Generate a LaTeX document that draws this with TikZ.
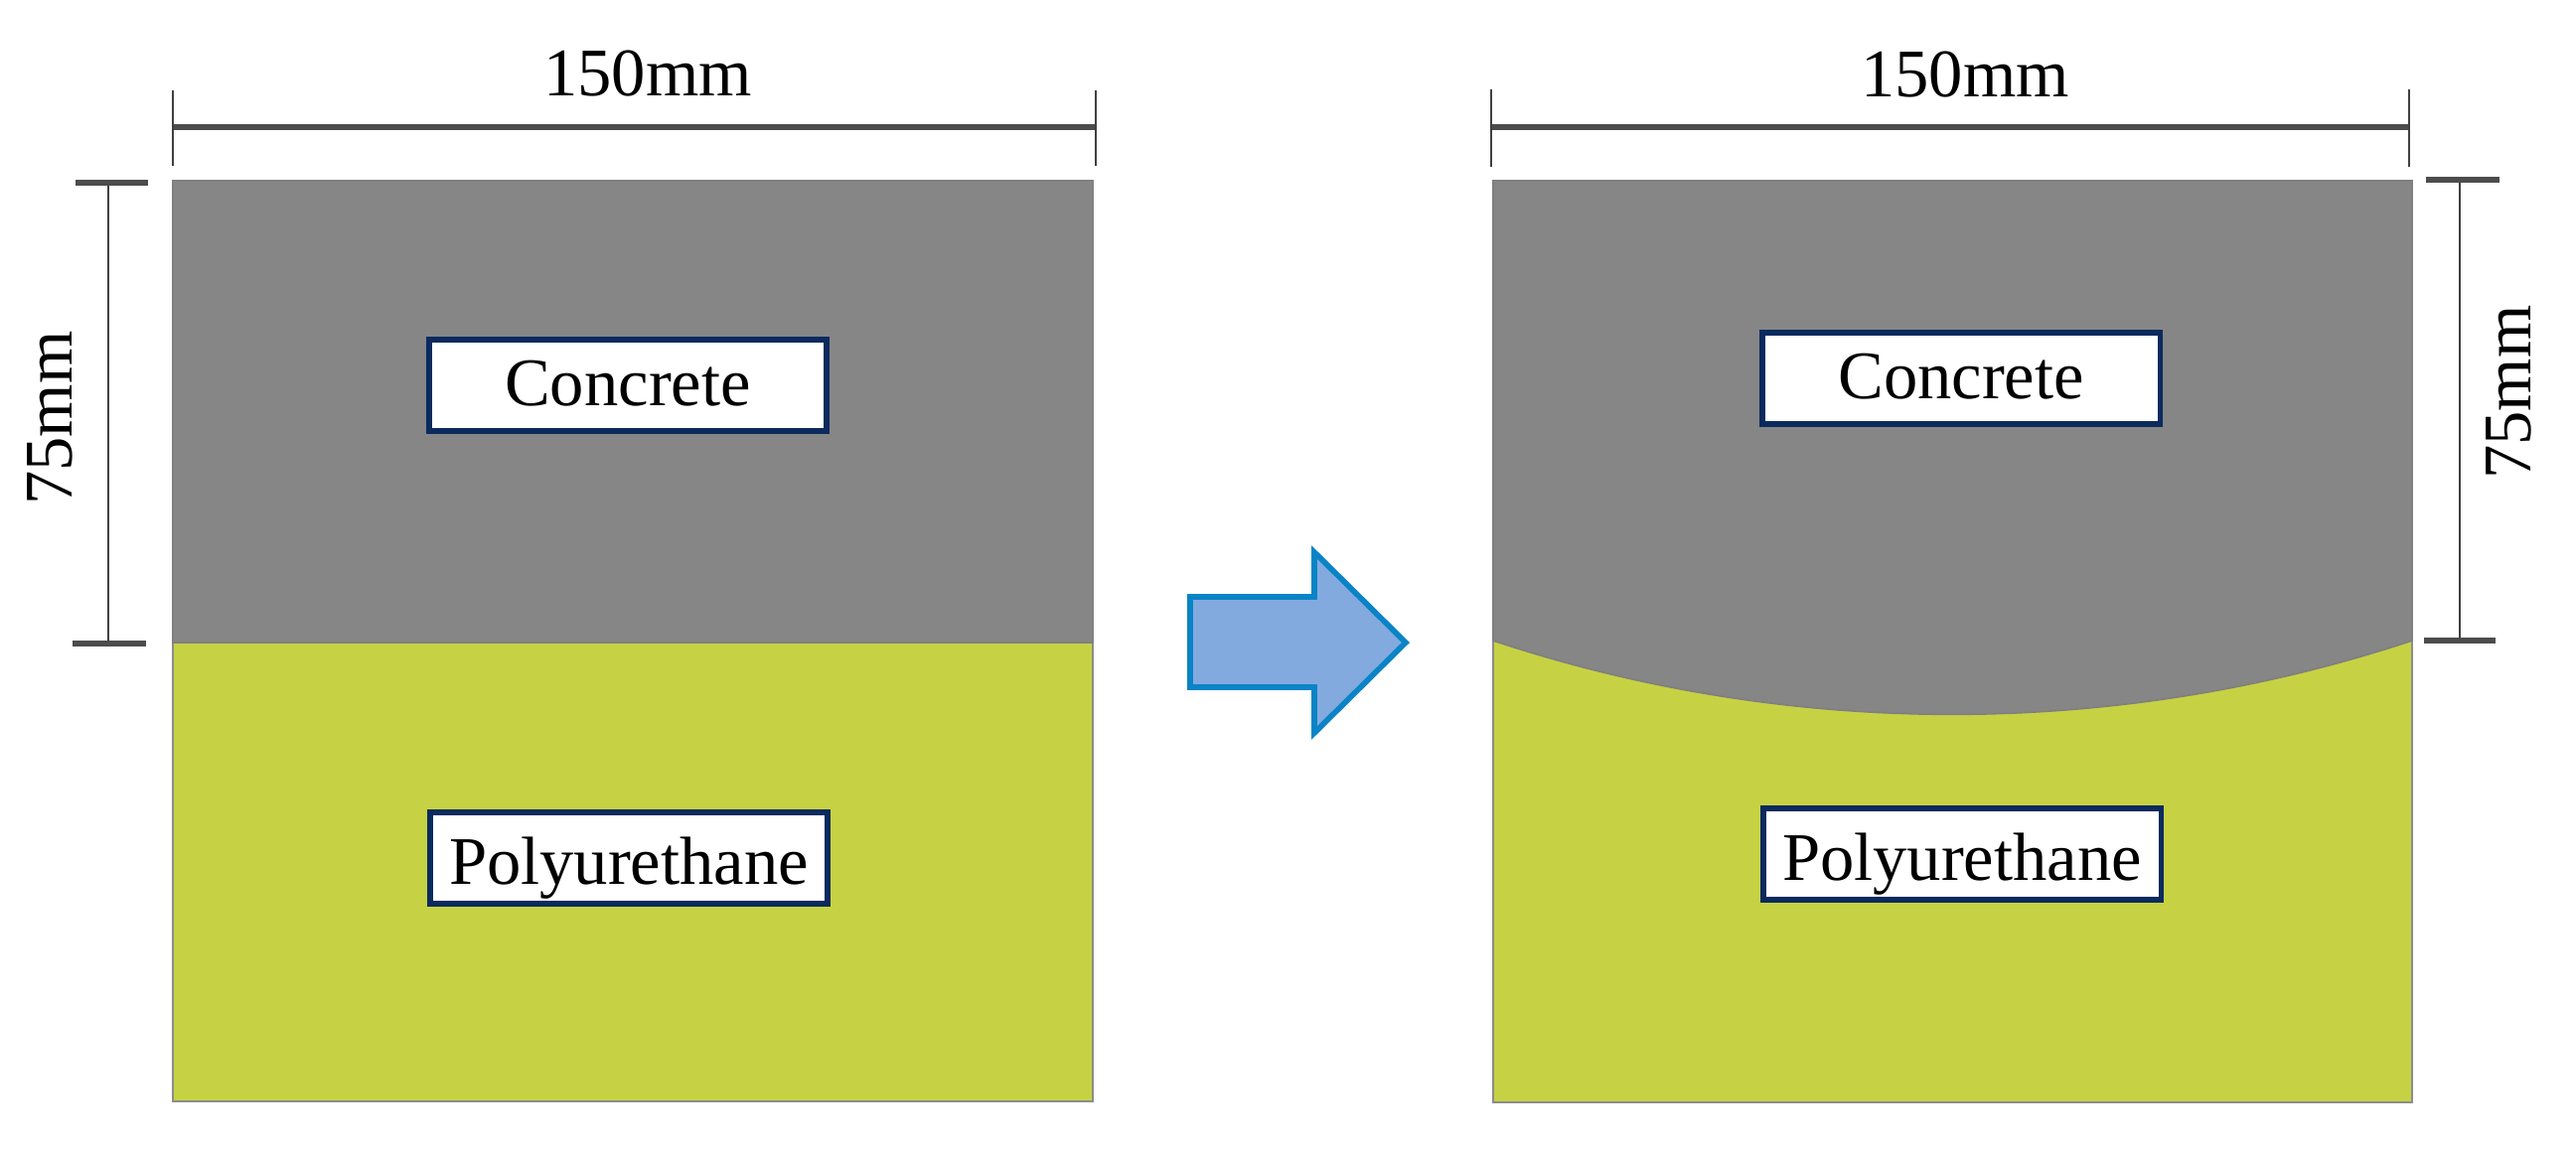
\documentclass[tikz,border=0pt]{standalone}
\usepackage{fontspec}
\setmainfont{Liberation Serif}
\usetikzlibrary{positioning}

\definecolor{concretegray}{HTML}{868686}
\definecolor{polyolive}{HTML}{C6D243}
\definecolor{boxnavy}{HTML}{0B2A5E}
\definecolor{arrowfill}{HTML}{83AADF}
\definecolor{arrowedge}{HTML}{0A84C6}

\tikzset{
  label box/.style={draw=boxnavy, fill=white, line width=1.5pt, inner sep=0pt,
    minimum width=4.0cm, minimum height=0.92cm, text height=0.46cm, text depth=0.06cm},
  poly box/.style={label box, text height=0.54cm, text depth=0.02cm},
  dim text/.style={inner sep=0pt},
  dim line/.style={draw=black!75, line width=0.8pt},
  dim bar/.style={draw=black!70, line width=1.6pt},
}

\begin{document}
\begin{tikzpicture}[x=0.01cm, y=-0.01cm, font=\fontsize{19.5}{22}\selectfont]
            \useasboundingbox (0,0) rectangle (2593,1157);

            % left block
            \fill[polyolive, draw=black!45, line width=0.5pt] (174,647) rectangle (1100,1109);
            \fill[concretegray, draw=black!50, line width=0.5pt] (174,182) rectangle (1100,647);

            % right block
            \fill[polyolive, draw=black!45, line width=0.5pt] (1503,645) rectangle (2428,1110);
            \fill[concretegray, draw=black!50, line width=0.5pt] (1503,182) -- (2428,182) -- (2428,645)
                .. controls (2130,744) and (1800,744) .. (1503,645) -- cycle;

            \node[label box] (concreteL) at (632,388) {Concrete};
            \node[poly box] (polyL) at (633,864) {Polyurethane};
            \node[label box] (concreteR) at (1974,381) {Concrete};
            \node[poly box] (polyR) at (1975,860) {Polyurethane};

            % top dimensions
            \coordinate (topLa) at (174,128);
            \coordinate (topLb) at (1103,128);
            \coordinate (topRa) at (1501,128);
            \coordinate (topRb) at (2425,128);
            \draw[dim bar] (topLa) -- (topLb);
            \draw[dim bar] (topRa) -- (topRb);
            \draw[dim line] (174,91) -- (174,167);
            \draw[dim line] (1103,91) -- (1103,167);
            \draw[dim line] (1501,90) -- (1501,168);
            \draw[dim line] (2425,90) -- (2425,168);
            \node[dim text] (widthL) at (652,74) {150mm};
            \node[dim text] (widthR) at (1978,75) {150mm};

            % side dimensions
            \coordinate (sideLa) at (109,184);
            \coordinate (sideLb) at (109,648);
            \coordinate (sideRa) at (2476,181);
            \coordinate (sideRb) at (2476,645);
            \draw[dim line] (sideLa) -- (sideLb);
            \draw[dim line] (sideRa) -- (sideRb);
            \draw[dim bar] (76,184) -- (149,184);
            \draw[dim bar] (73,648) -- (147,648);
            \draw[dim bar] (2442,181) -- (2516,181);
            \draw[dim bar] (2440,645) -- (2512,645);
            \node[dim text, rotate=90] (heightL) at (50,421) {75mm};
            \node[dim text, rotate=90] (heightR) at (2525,395) {75mm};

            % arrow between the blocks
            \draw[arrowedge, fill=arrowfill, line width=1.6pt, line join=miter]
                (1198,601) -- (1323,601) -- (1323,556) -- (1415,647)
                -- (1323,738) -- (1323,692) -- (1198,692) -- cycle;
\end{tikzpicture}
\end{document}
